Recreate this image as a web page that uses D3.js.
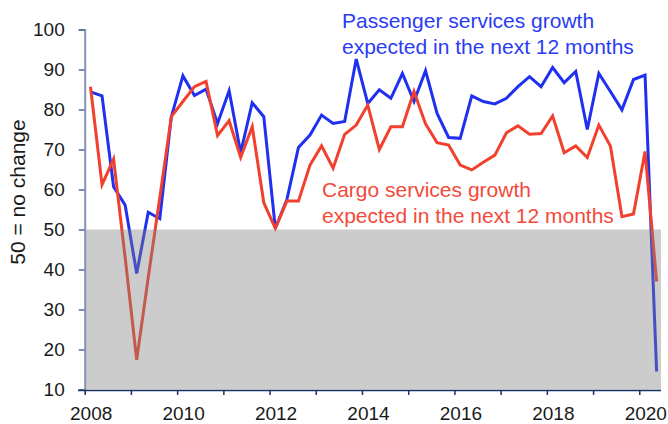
<!DOCTYPE html>
<html>
<head>
    <title>services growth expectations</title>
    <script type="text/javascript" src="https://cdn.jsdelivr.net/npm/d3@7/dist/d3.min.js"></script>
    <style type="text/css">
        body {
            margin: 0;
            background: #fff;
        }
        svg {
            font-family: "Liberation Sans", Arial, sans-serif;
        }
        .line {
            fill: none;
            stroke-width: 3px;
            stroke-linejoin: miter;
        }
    </style>
</head>
<body>
    <svg id="chart" width="668" height="424"></svg>
</body>

<script type="text/javascript">

    // quarterly survey readings, 2008Q1 .. 2020Q2
    let quarters = [
        "2008Q1","2008Q2","2008Q3","2008Q4","2009Q1","2009Q2","2009Q3","2009Q4",
        "2010Q1","2010Q2","2010Q3","2010Q4","2011Q1","2011Q2","2011Q3","2011Q4",
        "2012Q1","2012Q2","2012Q3","2012Q4","2013Q1","2013Q2","2013Q3","2013Q4",
        "2014Q1","2014Q2","2014Q3","2014Q4","2015Q1","2015Q2","2015Q3","2015Q4",
        "2016Q1","2016Q2","2016Q3","2016Q4","2017Q1","2017Q2","2017Q3","2017Q4",
        "2018Q1","2018Q2","2018Q3","2018Q4","2019Q1","2019Q2","2019Q3","2019Q4",
        "2020Q1","2020Q2"
    ];

    let passenger = [
        84.4, 83.4, 60.7, 56.1, 39.0, 54.3, 52.7, 78.2,
        88.4, 83.5, 85.1, 76.5, 84.7, 69.2, 81.7, 78.2,
        50.3, 57.5, 70.5, 73.6, 78.6, 76.5, 77.0, 92.6,
        81.5, 84.9, 82.8, 89.0, 82.0, 89.7, 79.0, 73.0,
        72.8, 83.4, 82.0, 81.4, 82.8, 85.7, 88.2, 85.7,
        90.5, 86.7, 89.5, 75.0, 89.0, 84.5, 79.9, 87.5,
        88.6, 14.5
    ];

    let cargo = [
        85.7, 61.2, 67.6, 43.0, 17.4, 38.0, 58.0, 78.2,
        82.0, 85.7, 87.0, 73.5, 77.2, 68.0, 75.7, 56.7,
        50.3, 57.1, 57.1, 66.1, 70.9, 65.3, 73.8, 76.1,
        81.1, 70.0, 75.7, 75.7, 84.5, 76.4, 71.7, 71.1,
        66.1, 64.9, 66.8, 68.6, 74.2, 75.9, 73.8, 74.0,
        78.4, 69.2, 70.9, 68.0, 76.1, 70.9, 53.2, 53.9,
        69.5, 37.0
    ];

    let yTicks = [10, 20, 30, 40, 50, 60, 70, 80, 90, 100];
    let yearTicks = [2008, 2009, 2010, 2011, 2012, 2013, 2014, 2015, 2016, 2017, 2018, 2019, 2020];
    let yearLabels = [2008, 2010, 2012, 2014, 2016, 2018, 2020];

    let passengerLabel = ["Passenger services growth", "expected in the next 12 months"];
    let cargoLabel = ["Cargo services growth", "expected in the next 12 months"];

    // quarter "2009Q3" -> mid-quarter as decimal year
    function qTime(q) {
        return +q.slice(0, 4) + (+q.slice(5) - 1) * 0.25 + 0.125;
    }

    let svg = d3.select("#chart");

    let x = d3.scaleLinear().domain([2008, 2020.47]).range([84.7, 661]);
    let y = d3.scaleLinear().domain([10, 100]).range([389.5, 29.5]);

    let line = d3.line()
        .x(function(d, i) { return x(qTime(quarters[i])); })
        .y(function(d) { return y(d); });

    svg.append("path")
        .attr("class", "line")
        .attr("stroke", "#1f30f0")
        .attr("d", line(passenger));

    svg.append("path")
        .attr("class", "line")
        .attr("stroke", "#f2402e")
        .attr("d", line(cargo));

    // shaded zone below 50, laid over the lines
    svg.append("rect")
        .attr("x", x(2008))
        .attr("y", y(50))
        .attr("width", x(2020.47) - x(2008))
        .attr("height", y(10) - y(50))
        .attr("fill", "#7f7f7f")
        .attr("fill-opacity", 0.4);

    // y axis
    let yAxis = svg.append("g")
        .attr("transform", "translate(" + x(2008) + ",0)")
        .call(d3.axisLeft(y).tickValues(yTicks).tickSize(6).tickPadding(14));
    yAxis.select(".domain").attr("stroke", "#8593b5").attr("stroke-width", 2);
    yAxis.selectAll(".tick line").attr("stroke", "#5a6a94").attr("stroke-width", 1.5);
    yAxis.selectAll(".tick text")
        .attr("font-size", "19px")
        .attr("fill", "#1a1a1a")
        .attr("font-family", "Liberation Sans, Arial, sans-serif");

    // x axis
    let xAxis = svg.append("g")
        .attr("transform", "translate(0," + 390 + ")")
        .call(d3.axisBottom(x).tickValues(yearTicks).tickSize(5).tickSizeOuter(0).tickFormat(""));
    xAxis.select(".domain").attr("stroke", "#1c3068").attr("stroke-width", 1.5)
        .attr("d", "M78,0.5H661");
    xAxis.selectAll(".tick line").attr("stroke", "#1c3068").attr("stroke-width", 1.5);

    svg.append("g")
        .selectAll("text")
        .data(yearLabels)
        .join("text")
        .attr("x", function(d) { return x(d) + 6.5; })
        .attr("y", 420)
        .attr("text-anchor", "middle")
        .attr("font-size", "19px")
        .attr("fill", "#1a1a1a")
        .text(function(d) { return d; });

    // y title
    svg.append("text")
        .attr("transform", "translate(25,192) rotate(-90)")
        .attr("text-anchor", "middle")
        .attr("font-size", "21px")
        .attr("fill", "#1a1a1a")
        .text("50 = no change");

    // series labels
    svg.append("g")
        .selectAll("text")
        .data(passengerLabel)
        .join("text")
        .attr("x", 342)
        .attr("y", function(d, i) { return 27.5 + i * 26; })
        .attr("font-size", "21px")
        .attr("fill", "#2a3cf2")
        .text(function(d) { return d; });

    svg.append("g")
        .selectAll("text")
        .data(cargoLabel)
        .join("text")
        .attr("x", 322)
        .attr("y", function(d, i) { return 197 + i * 26; })
        .attr("font-size", "21px")
        .attr("fill", "#f24a3a")
        .text(function(d) { return d; });
</script>

</html>
